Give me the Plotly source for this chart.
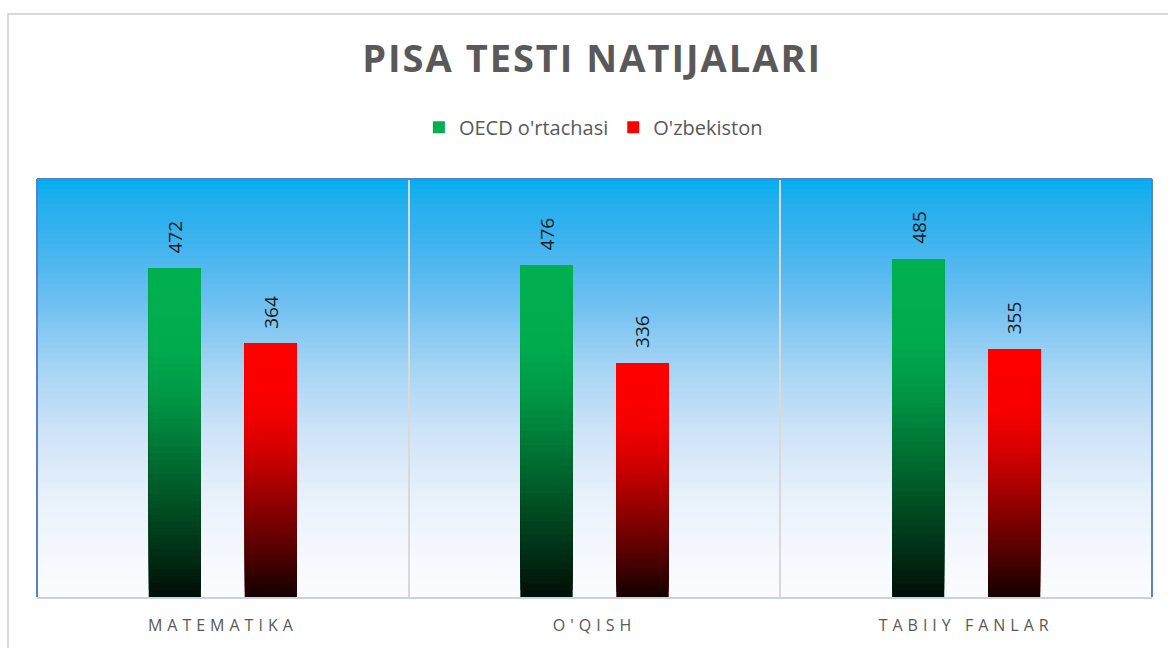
import plotly.graph_objects as go

# ---------------- data ----------------
categories = ["MATEMATIKA", "O'QISH", "TABIIY FANLAR"]
oecd_values = [472, 476, 485]
uzb_values = [364, 336, 355]
series_names = ["OECD o'rtachasi", "O'zbekiston"]
title_text = "PISA TESTI NATIJALARI"

# ---------------- style ----------------
Y_MAX = 600
N_SEG = 48
BARGAP = 0.4834
BARGROUPGAP = 0.458
FONT = "Open Sans"
GRAY = "#595959"

# bar gradient intensity (t = 0 bottom, 1 top)
INTENSITY = [(0.0, 0.07), (0.15, 0.29), (0.3, 0.48), (0.45, 0.67),
             (0.6, 0.85), (0.75, 0.97), (1.0, 1.0)]
# plot background gradient (s = 0 top, 1 bottom)
BG_STOPS = [(0.0, (0, 174, 239)), (0.05, (34, 175, 238)), (0.13, (56, 178, 239)),
            (0.29, (108, 191, 241)), (0.45, (165, 212, 244)), (0.61, (207, 228, 248)),
            (0.76, (232, 241, 251)), (0.92, (247, 250, 254)), (1.0, (250, 252, 255))]


def interp_scalar(stops, t):
    for (t0, v0), (t1, v1) in zip(stops[:-1], stops[1:]):
        if t0 <= t <= t1:
            a = (t - t0) / (t1 - t0)
            return v0 + a * (v1 - v0)
    return stops[-1][1]


def interp_rgb(stops, t):
    for (t0, c0), (t1, c1) in zip(stops[:-1], stops[1:]):
        if t0 <= t <= t1:
            a = (t - t0) / (t1 - t0)
            return tuple(c0[i] + a * (c1[i] - c0[i]) for i in range(3))
    return stops[-1][1]


def rgb_str(c):
    return "rgb(%d,%d,%d)" % tuple(int(round(x)) for x in c)


fig = go.Figure()

series = [
    (series_names[0], oecd_values, (0, 176, 80), "oecd"),
    (series_names[1], uzb_values, (255, 0, 0), "uzb"),
]

for name, vals, base_rgb, grp in series:
    # full bar (legend entry)
    fig.add_bar(x=categories, y=vals, name=name, offsetgroup=grp,
                marker=dict(color=rgb_str(base_rgb), line=dict(width=0)),
                hovertemplate="%{x}: %{y}<extra>" + name + "</extra>")
    # gradient overlay segments
    for k in range(N_SEG):
        frac = k / N_SEG
        bases = [v * frac for v in vals]
        heights = [v - b for v, b in zip(vals, bases)]
        t = (k + 0.5) / N_SEG
        f = interp_scalar(INTENSITY, t)
        col = tuple(c * f for c in base_rgb)
        fig.add_bar(x=categories, y=heights, base=bases, offsetgroup=grp,
                    marker=dict(color=rgb_str(col), line=dict(width=0)),
                    showlegend=False, hoverinfo="skip")

# data labels
slot = (1 - BARGAP) / 2
annotations = []
for si, (name, vals, base_rgb, grp) in enumerate(series):
    for i, v in enumerate(vals):
        annotations.append(dict(
            x=i + (si - 0.5) * slot, y=v, xref="x", yref="y",
            text=str(v), textangle=-90, showarrow=False,
            yanchor="bottom", xanchor="center", yshift=13,
            font=dict(family=FONT, size=19, color="#1a1a1a")))

# background gradient bands
shapes = []
NB = 84
for j in range(NB):
    s = (j + 0.5) / NB
    y1 = 1 - j / NB
    y0 = max(0.0, 1 - (j + 1.4) / NB)
    shapes.append(dict(type="rect", xref="x domain", yref="y domain",
                       x0=0, x1=1, y0=y0, y1=y1, layer="below",
                       fillcolor=rgb_str(interp_rgb(BG_STOPS, s)),
                       line=dict(width=0)))

# plot area border (left, top, right)
BLUE = "#5B7FCF"
for (x0, y0, x1, y1) in [(0, 0, 0, 1), (0, 1, 1, 1), (1, 0, 1, 1)]:
    shapes.append(dict(type="line", xref="x domain", yref="y domain",
                       x0=x0, y0=y0, x1=x1, y1=y1, layer="above",
                       line=dict(color=BLUE, width=2)))

# outer chart border
shapes.append(dict(type="rect", xref="paper", yref="paper",
                   x0=-0.026, x1=1.2, y0=-0.3, y1=1.395, layer="below",
                   line=dict(color="#D9D9D9", width=2), fillcolor="rgba(0,0,0,0)"))

fig.update_layout(
    width=1168, height=648,
    margin=dict(l=37, r=16, t=179, b=49),
    paper_bgcolor="white", plot_bgcolor="white",
    barmode="group", bargap=BARGAP, bargroupgap=BARGROUPGAP,
    title=dict(text="<b>" + title_text + "</b>", x=0.507, xref="container",
               xanchor="center", y=0.909, yref="container", yanchor="middle",
               font=dict(family=FONT, size=38, color=GRAY)),
    legend=dict(orientation="h", x=0.499, xanchor="center", y=1.124,
                yanchor="middle", font=dict(family=FONT, size=20, color=GRAY),
                itemwidth=30, bgcolor="rgba(0,0,0,0)"),
    xaxis=dict(type="category", tickson="boundaries", showgrid=True,
               gridcolor="#D9D9D9", gridwidth=1.5, ticks="", showline=True,
               linecolor="#C8D2E4", linewidth=2, zeroline=False,
               ticklabelstandoff=13,
               tickfont=dict(family=FONT, size=16, color=GRAY)),
    yaxis=dict(range=[0, Y_MAX], visible=False, showgrid=False, zeroline=False),
    annotations=annotations,
    shapes=shapes,
    showlegend=True,
)

post_script = (
    "var st=document.createElement('style');"
    "st.textContent='body{margin:0} .xtick text{letter-spacing:5px} .gtitle{letter-spacing:2px}';"
    "document.head.appendChild(st);"
)

fig.write_html("out.html", config={"displayModeBar": False}, post_script=post_script)
